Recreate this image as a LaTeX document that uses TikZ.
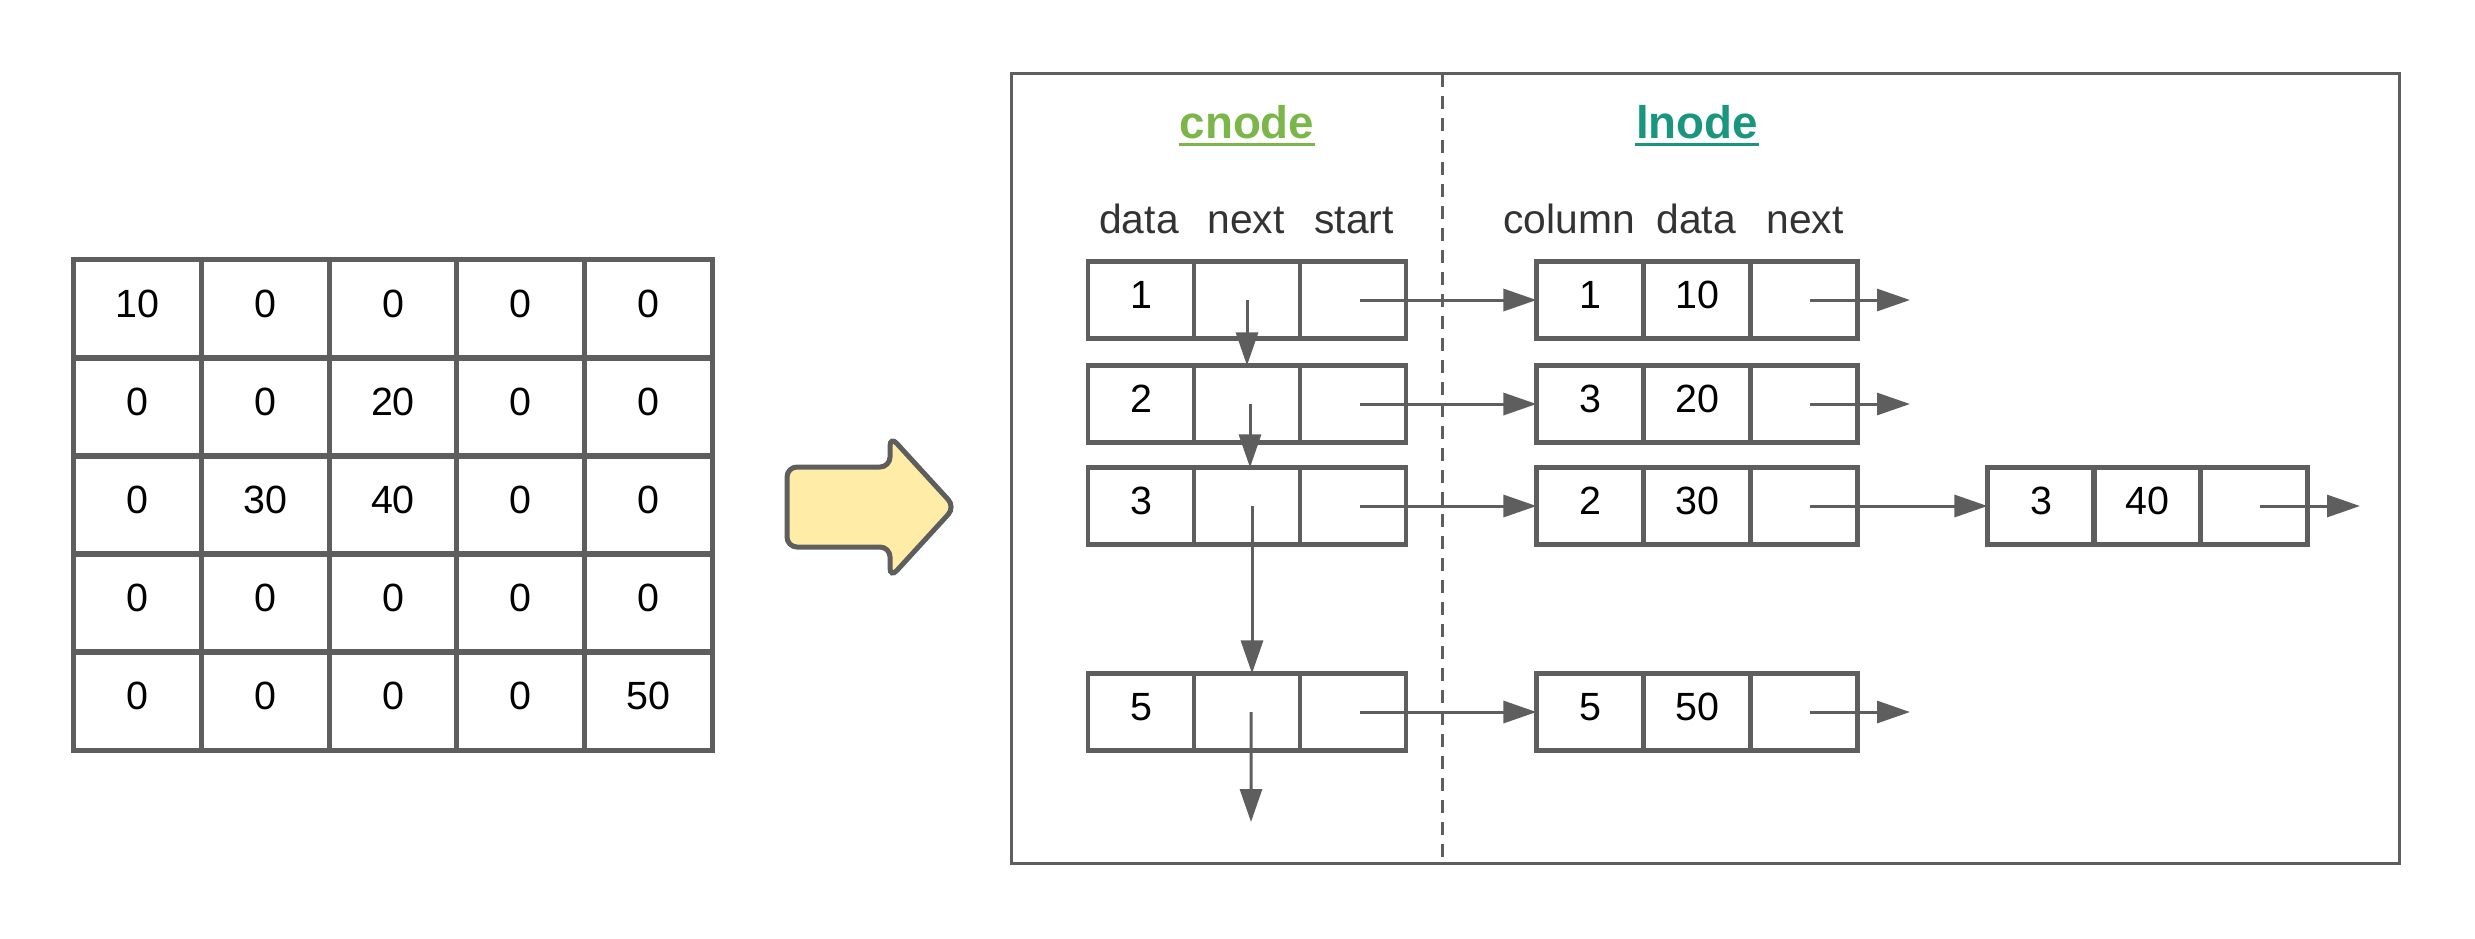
\documentclass[tikz,border=0pt]{standalone}
\usepackage{fontspec}
\setmainfont{Liberation Sans}
\usetikzlibrary{arrows.meta}
\definecolor{lc}{HTML}{5E5E5E}
\definecolor{yel}{HTML}{FFECA6}
\definecolor{cgreen}{HTML}{7AB648}
\definecolor{lgreen}{HTML}{19967D}
\definecolor{hdr}{HTML}{333333}
\begin{document}
\begin{tikzpicture}[x=0.01cm,y=-0.01cm,
  tcell/.style={draw=lc, line width=0.05cm, minimum width=1.276cm, minimum height=0.98cm,
    inner sep=0pt, outer sep=0pt, text height=0.72em, text depth=0.26em,
    font=\fontsize{11.2}{13.4}\selectfont},
  bcell/.style={draw=lc, line width=0.045cm, minimum width=1.06cm, minimum height=0.77cm,
    inner sep=0pt, outer sep=0pt, text height=0.72em, text depth=0.26em,
    font=\fontsize{11.2}{13.4}\selectfont},
  lcell/.style={bcell, minimum width=1.07cm},
  hdrtext/.style={anchor=base, inner sep=0pt, text=hdr, font=\fontsize{11.6}{14}\selectfont},
  title/.style={anchor=base, inner sep=0pt, font=\fontsize{13}{15}\selectfont\bfseries},
  conn/.style={draw=lc, line width=0.03cm, -{Triangle[length=0.33cm,width=0.22cm]}}]
\useasboundingbox (0,0) rectangle (2475,938);

% matrix
\foreach \r/\c/\v in {1/1/10,1/2/0,1/3/0,1/4/0,1/5/0,
                      2/1/0,2/2/0,2/3/20,2/4/0,2/5/0,
                      3/1/0,3/2/30,3/3/40,3/4/0,3/5/0,
                      4/1/0,4/2/0,4/3/0,4/4/0,4/5/0,
                      5/1/0,5/2/0,5/3/0,5/4/0,5/5/50}
  {\node[tcell] (t\r\c) at ({74+127.6*(\c-0.5)},{260+98*(\r-0.5)}) {\v};}

% yellow arrow
\draw[draw=lc, fill=yel, line width=0.05cm, rounded corners=0.1cm]
  (787,507) -- (787,467) -- (890,467) -- (890,436) -- (955,507) -- (890,578)
  -- (890,547) -- (787,547) -- cycle;

% frame and divider
\node[draw=lc, line width=0.03cm, minimum width=13.87cm, minimum height=7.89cm,
  inner sep=0pt, outer sep=0pt] (frame) at (1705.5,468.5) {};
\draw[draw=lc, line width=0.03cm, dash pattern=on 0.13cm off 0.09cm] (1442,74) -- (1442,863);

% titles
\node[title, text=cgreen] (tc) at (1247,138) {cnode};
\draw[cgreen, line width=0.03cm] ([yshift=-0.065cm]tc.base west) -- ([yshift=-0.065cm]tc.base east);
\node[title, text=lgreen] (tl) at (1697,138) {lnode};
\draw[lgreen, line width=0.03cm] ([yshift=-0.065cm]tl.base west) -- ([yshift=-0.065cm]tl.base east);

% headers
\node[hdrtext] (h1) at (1139,233) {data};
\node[hdrtext] (h2) at (1246,233) {next};
\node[hdrtext] (h3) at (1354,233) {start};
\node[hdrtext] (h4) at (1569,233) {column};
\node[hdrtext] (h5) at (1696,233) {data};
\node[hdrtext] (h6) at (1805,233) {next};

% cnode boxes
\foreach \n/\y/\d in {1/300/1, 2/404/2, 3/506/3, 5/712/5} {
  \node[bcell] (c\n d) at (1141,\y) {\d};
  \node[bcell] (c\n n) at (1247,\y) {};
  \node[bcell] (c\n s) at (1353,\y) {};
}
% lnode boxes
\foreach \n/\y/\a/\b in {1/300/1/10, 2/404/3/20, 3/506/2/30, 5/712/5/50} {
  \node[lcell] (l\n c) at (1590,\y) {\a};
  \node[lcell] (l\n d) at (1697,\y) {\b};
  \node[lcell] (l\n n) at (1804,\y) {};
}
\node[lcell] (m3c) at (2041,506) {3};
\node[lcell] (m3d) at (2147,506) {40};
\node[lcell] (m3n) at (2254,506) {};

% free ends
\coordinate (e5) at (1251,822);
\coordinate (n1) at (1910,300);
\coordinate (n2) at (1910,404);
\coordinate (n5) at (1910,712);
\coordinate (nm) at (2360,506);

% connectors
\draw[conn] (c1n.center) -- (c2n.north);
\draw[conn] ([xshift=0.03cm]c2n.center) -- ([xshift=0.03cm]c3n.north);
\draw[conn] ([xshift=0.05cm]c3n.center) -- ([xshift=0.05cm]c5n.north);
\draw[conn] ([xshift=0.04cm]c5n.center) -- (e5);
\draw[conn] ([xshift=0.07cm]c1s.center) -- (l1c.west);
\draw[conn] ([xshift=0.07cm]c2s.center) -- (l2c.west);
\draw[conn] ([xshift=0.07cm]c3s.center) -- (l3c.west);
\draw[conn] ([xshift=0.07cm]c5s.center) -- (l5c.west);
\draw[conn] ([xshift=0.06cm]l1n.center) -- (n1);
\draw[conn] ([xshift=0.06cm]l2n.center) -- (n2);
\draw[conn] ([xshift=0.06cm]l3n.center) -- (m3c.west);
\draw[conn] ([xshift=0.06cm]l5n.center) -- (n5);
\draw[conn] ([xshift=0.06cm]m3n.center) -- (nm);
\end{tikzpicture}
\end{document}
